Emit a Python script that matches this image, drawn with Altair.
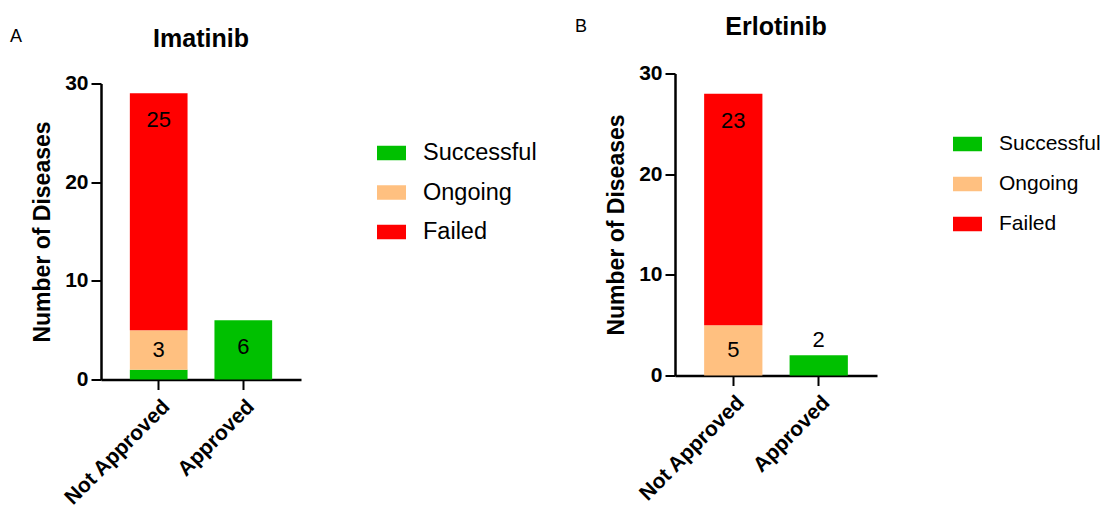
import altair as alt
import pandas as pd

categories = ["Not Approved", "Approved"]
statuses = ["Successful", "Ongoing", "Failed"]
status_colors = ["#00C000", "#FFC080", "#FF0000"]

# Imatinib: segment heights as drawn, per category
imatinib_successful = [1, 6]
imatinib_ongoing = [4, 0]
imatinib_failed = [24, 0]
imatinib_successful_labels = ["", "6"]
imatinib_ongoing_labels = ["3", ""]
imatinib_failed_labels = ["25", ""]

# Erlotinib
erlotinib_successful = [0, 2]
erlotinib_ongoing = [5, 0]
erlotinib_failed = [23, 0]
erlotinib_successful_labels = ["", "2"]
erlotinib_ongoing_labels = ["5", ""]
erlotinib_failed_labels = ["23", ""]

y_ticks = [0, 10, 20, 30]
FONT = "Liberation Sans"


def build_frame(succ, ong, fail, succ_l, ong_l, fail_l):
    rows = []
    for i, cat in enumerate(categories):
        base = 0.0
        for status, vals, labs in zip(statuses, [succ, ong, fail], [succ_l, ong_l, fail_l]):
            v = vals[i]
            y0, y1 = base, base + v
            base = y1
            h = y1 - y0
            if h < 3:
                ly = y1 + 1.5
            else:
                ly = max((y0 + y1) / 2, y1 - 2.7)
            rows.append(dict(category=cat, status=status, y0=y0, y1=y1,
                             label=labs[i], label_y=ly))
    return pd.DataFrame(rows)


def panel(df, title, letter, width, height, yrange, title_offset,
          legend_x, legend_y, legend_font, row_pad, letter_x, letter_y):
    xscale = alt.Scale(domain=categories, paddingInner=0.318, paddingOuter=0.341)
    xaxis = alt.Axis(labelAngle=-45, labelFontSize=21, labelFontWeight="bold",
                     labelColor="black", labelFont=FONT, tickSize=10, tickWidth=2,
                     tickColor="black", domainColor="black", domainWidth=2.5,
                     labelPadding=6)
    if yrange is not None:
        yscale = alt.Scale(domain=[0, 30], range=yrange)
    else:
        yscale = alt.Scale(domain=[0, 30])
    yaxis = alt.Axis(values=y_ticks, title="Number of Diseases", grid=False,
                     labelFontSize=21, labelFontWeight="bold", labelColor="black",
                     labelFont=FONT, labelPadding=3, tickSize=10, tickWidth=2,
                     tickColor="black", domainColor="black", domainWidth=2.5,
                     titleFontSize=23, titleFontWeight="bold", titleColor="black",
                     titleFont=FONT, titlePadding=10)
    legend = alt.Legend(title=None, orient="none", legendX=legend_x, legendY=legend_y,
                        symbolType="M-1,-0.5H1V0.5H-1Z", symbolSize=841,
                        symbolStrokeWidth=0, symbolOpacity=1, labelFontSize=legend_font,
                        labelFont=FONT, labelColor="black", labelOffset=17,
                        rowPadding=row_pad, padding=0)
    bars = alt.Chart(df).mark_bar(strokeWidth=0).encode(
        x=alt.X("category:N", sort=categories, title=None, scale=xscale, axis=xaxis),
        y=alt.Y("y0:Q", scale=yscale, axis=yaxis),
        y2="y1:Q",
        color=alt.Color("status:N", scale=alt.Scale(domain=statuses, range=status_colors),
                        legend=legend),
    )
    texts = alt.Chart(df).transform_filter("datum.label != ''").mark_text(
        fontSize=22, font=FONT, color="black", baseline="middle"
    ).encode(
        x=alt.X("category:N", sort=categories),
        y=alt.Y("label_y:Q"),
        text="label:N",
    )
    letter_layer = alt.Chart(pd.DataFrame({"letter": [letter]})).mark_text(
        align="left", baseline="alphabetic", fontSize=18, font=FONT, color="black"
    ).encode(x=alt.value(letter_x), y=alt.value(letter_y), text="letter:N")
    return alt.layer(bars, texts, letter_layer).properties(
        width=width, height=height,
        title=alt.TitleParams(title, fontSize=25, fontWeight="bold", font=FONT,
                              color="black", frame="group", anchor="middle",
                              baseline="alphabetic", offset=title_offset),
    )


df_a = build_frame(imatinib_successful, imatinib_ongoing, imatinib_failed,
                   imatinib_successful_labels, imatinib_ongoing_labels,
                   imatinib_failed_labels)
df_b = build_frame(erlotinib_successful, erlotinib_ongoing, erlotinib_failed,
                   erlotinib_successful_labels, erlotinib_ongoing_labels,
                   erlotinib_failed_labels)

pa = panel(df_a, "Imatinib", "A", 200, 306, [306, 10], -44, 276, 65, 23.5, 13.5, -91, -32)
pb = panel(df_b, "Erlotinib", "B", 202, 302, None, -42, 278, 56, 21, 15, -100, -42)

chart = alt.hconcat(pa, pb, spacing=38).resolve_scale(
    color="independent", x="independent", y="independent"
).resolve_legend(color="independent").properties(
    padding={"left": 2, "top": 6.5, "right": 0, "bottom": 0}
).configure(font=FONT, view=alt.ViewConfig(stroke=None))

chart.save("out.html", embed_options={"renderer": "svg", "actions": False})
